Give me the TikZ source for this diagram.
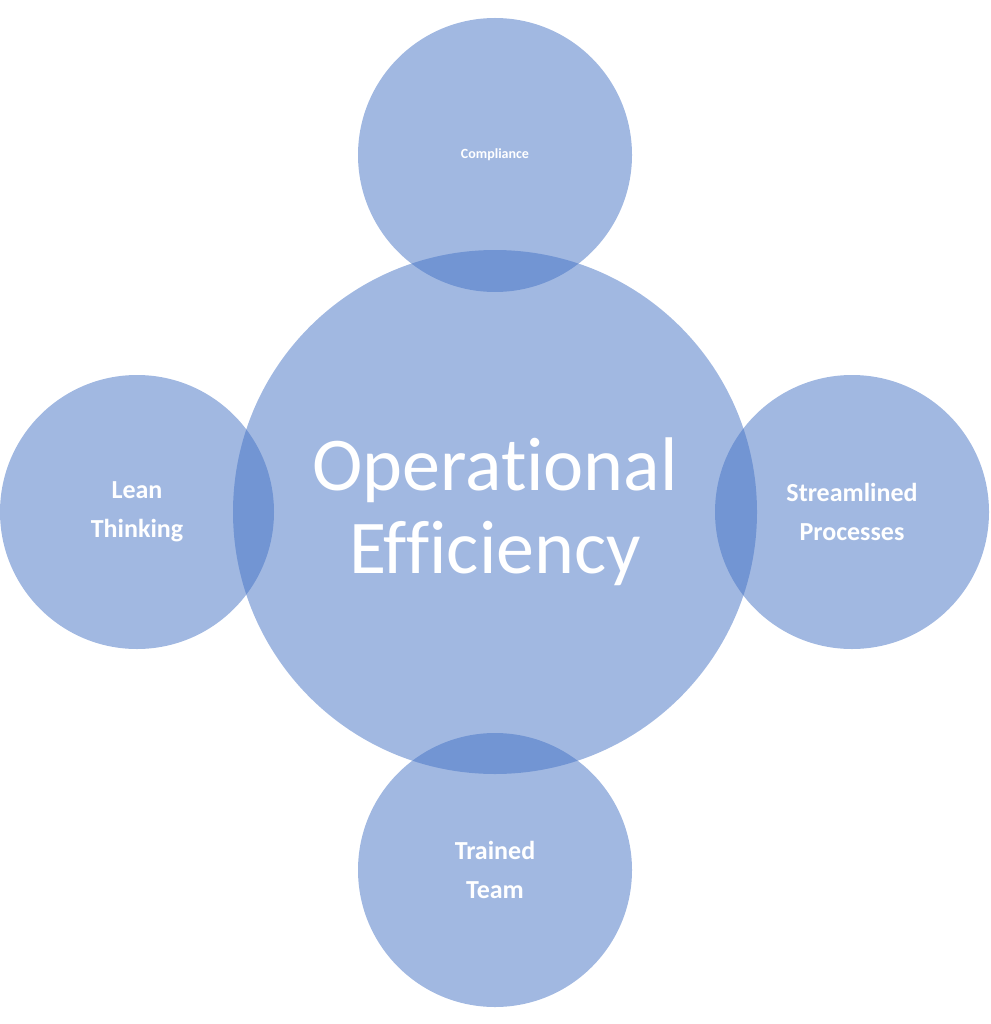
\documentclass[tikz,border=0pt]{standalone}
\usepackage{fontspec}
\setmainfont{Carlito}[Ligatures={NoCommon,NoRare,NoContextual}]
\definecolor{petal}{HTML}{4472C4}
\begin{document}
\begin{tikzpicture}[x=1pt,y=-1pt]
\tikzstyle{every node}+=[inner sep=0pt, text=white, align=center]
\tikzstyle{bubble}=[fill=petal, fill opacity=0.5]
\tikzstyle{label}=[font=\fontsize{26}{39}\selectfont\bfseries]
\useasboundingbox (0,0) rectangle (990,1024);
\fill [bubble] (495,512) circle (262);
\fill [bubble] (495,155) circle (137);
\fill [bubble] (137,512) circle (137);
\fill [bubble] (852,512) circle (137);
\fill [bubble] (495,870) circle (137);
\node (core) at (495,512) [font=\fontsize{76}{83}\selectfont] {Operational\\Efficiency};
\node (comp) at (495,155) [font=\fontsize{14}{17}\selectfont\bfseries] {Compliance};
\node (lean) at (137,512) [label] {Lean\\Thinking};
\node (flow) at (852,512) [label] {Streamlined\\Processes};
\node (team) at (495,870) [label] {Trained\\Team};
\end{tikzpicture}
\end{document}
